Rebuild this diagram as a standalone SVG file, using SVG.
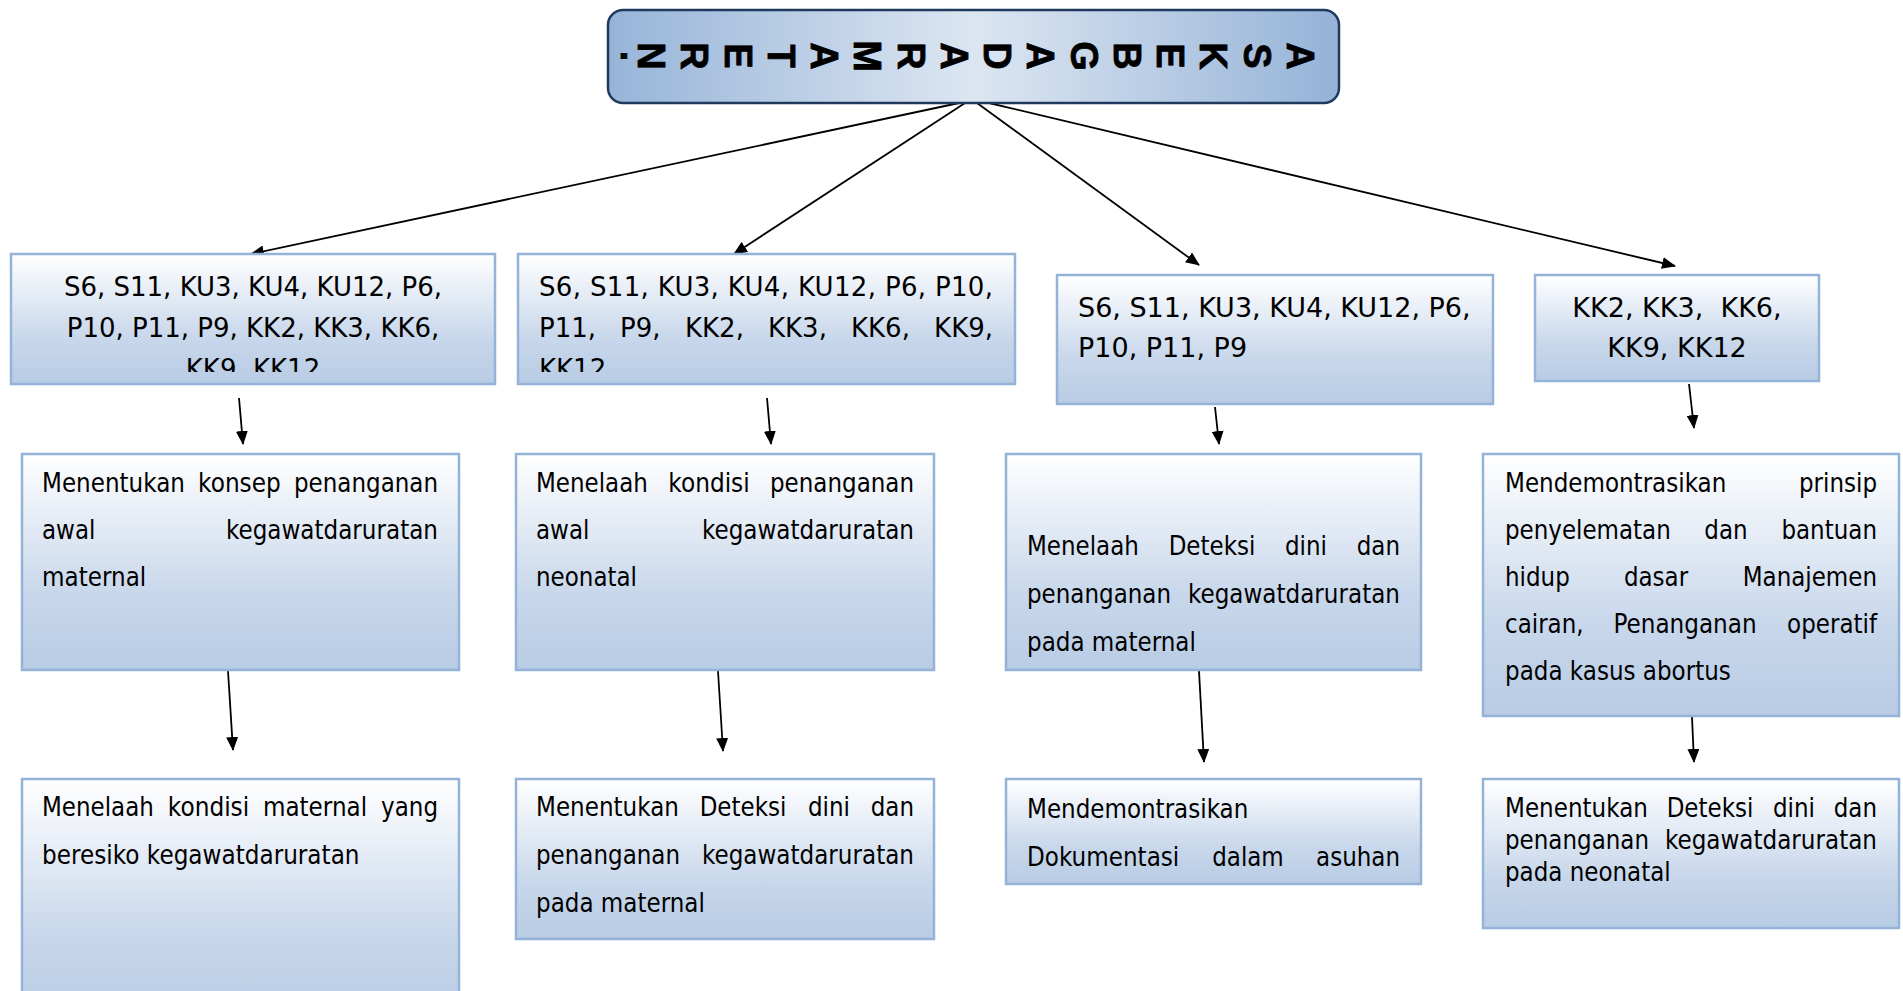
<svg xmlns="http://www.w3.org/2000/svg" width="1903" height="991" viewBox="0 0 1903 991">
<style>
.box{fill:url(#nodeGrad);stroke:#95b3d7;stroke-width:2.5}
.t1{font-family:"DejaVu Sans","Noto Sans",sans-serif;font-size:26px;fill:#000}
.t1b{font-family:"DejaVu Sans","Noto Sans",sans-serif;font-size:27px;fill:#000}
.t2{font-family:"DejaVu Sans","Noto Sans",sans-serif;font-size:26.5px;fill:#000}
.e{text-anchor:end}
.m{text-anchor:middle}
.tl{font-family:"Liberation Sans",Arial,sans-serif;font-weight:bold;font-size:38px;fill:#000;stroke:#000;stroke-width:0.8;text-anchor:middle}
.conn{stroke:#000;stroke-width:1.8;fill:none;marker-end:url(#ah)}
</style>
<defs>
<linearGradient id="nodeGrad" x1="0" y1="0" x2="0" y2="1">
<stop offset="0" stop-color="#ffffff"/>
<stop offset="0.65" stop-color="#c8d7eb"/>
<stop offset="1" stop-color="#b8cce4"/>
</linearGradient>
<linearGradient id="titleGrad" x1="0" y1="0" x2="1" y2="0">
<stop offset="0" stop-color="#97b4d8"/>
<stop offset="0.5" stop-color="#dce6f2"/>
<stop offset="1" stop-color="#95b3d7"/>
</linearGradient>
<marker id="ah" markerWidth="14" markerHeight="12" refX="13" refY="6" orient="auto" markerUnits="userSpaceOnUse">
<path d="M0,0 L14,6 L0,12 z" fill="#000"/>
</marker>
<clipPath id="clipB1"><rect x="11" y="254" width="484" height="118"/></clipPath>
<clipPath id="clipB2"><rect x="518" y="254" width="497" height="118"/></clipPath>
</defs>
<rect x="0" y="0" width="1903" height="991" fill="#ffffff"/>

<g id="connectors">
<line class="conn" x1="959" y1="103" x2="251" y2="254"/>
<line class="conn" x1="965" y1="103" x2="734" y2="254"/>
<line class="conn" x1="977" y1="103" x2="1199" y2="265"/>
<line class="conn" x1="989" y1="103" x2="1675" y2="266"/>
<line class="conn" x1="239" y1="398" x2="243" y2="444"/>
<line class="conn" x1="767" y1="398" x2="771" y2="444"/>
<line class="conn" x1="1215" y1="407" x2="1219" y2="444"/>
<line class="conn" x1="1689" y1="384" x2="1694" y2="428"/>
<line class="conn" x1="228" y1="671" x2="233" y2="750"/>
<line class="conn" x1="718" y1="671" x2="723" y2="751"/>
<line class="conn" x1="1199" y1="671" x2="1204" y2="762"/>
<line class="conn" x1="1692" y1="717" x2="1694" y2="762"/>
</g>

<g id="title">
<rect x="608" y="10" width="731" height="93" rx="15" ry="15" fill="url(#titleGrad)" stroke="#203a5e" stroke-width="2.5"/>
<text class="tl" transform="translate(1301,56) rotate(90)" dy="13.6">A</text>
<text class="tl" transform="translate(1258,56) rotate(90)" dy="13.6">S</text>
<text class="tl" transform="translate(1214,56) rotate(90)" dy="13.6">K</text>
<text class="tl" transform="translate(1171,56) rotate(90)" dy="13.6">E</text>
<text class="tl" transform="translate(1128,56) rotate(90)" dy="13.6">B</text>
<text class="tl" transform="translate(1085,56) rotate(90)" dy="13.6">G</text>
<text class="tl" transform="translate(1041,56) rotate(90)" dy="13.6">A</text>
<text class="tl" transform="translate(998,56) rotate(90)" dy="13.6">D</text>
<text class="tl" transform="translate(955,56) rotate(90)" dy="13.6">A</text>
<text class="tl" transform="translate(912,56) rotate(90)" dy="13.6">R</text>
<text class="tl" transform="translate(868,56) rotate(90)" dy="13.6">M</text>
<text class="tl" transform="translate(825,56) rotate(90)" dy="13.6">A</text>
<text class="tl" transform="translate(782,56) rotate(90)" dy="13.6">T</text>
<text class="tl" transform="translate(739,56) rotate(90)" dy="13.6">E</text>
<text class="tl" transform="translate(695,56) rotate(90)" dy="13.6">R</text>
<text class="tl" transform="translate(652,56) rotate(90)" dy="13.6">N</text>
<text class="tl" transform="translate(635,56) rotate(90)" dy="13.6">.</text>
</g>

<g id="b1">
<rect class="box" x="11" y="254" width="484" height="130"/>
<g clip-path="url(#clipB1)">
<text class="t1 m" x="253" y="296">S6, S11, KU3, KU4, KU12, P6,</text>
<text class="t1 m" x="253" y="337">P10, P11, P9, KK2, KK3, KK6,</text>
<text class="t1 m" x="253" y="378">KK9, KK12</text>
</g>
</g>

<g id="b2">
<rect class="box" x="518" y="254" width="497" height="130"/>
<g clip-path="url(#clipB2)">
<text class="t1" x="539" y="296" textLength="454" lengthAdjust="spacing">S6, S11, KU3, KU4, KU12, P6, P10,</text>
<text class="t1" x="539" y="337">P11,</text>
<text class="t1" x="620" y="337">P9,</text>
<text class="t1" x="685" y="337">KK2,</text>
<text class="t1" x="768" y="337">KK3,</text>
<text class="t1" x="851" y="337">KK6,</text>
<text class="t1 e" x="993" y="337">KK9,</text>
<text class="t1" x="539" y="378">KK12</text>
</g>
</g>

<g id="b3">
<rect class="box" x="1057" y="275" width="436" height="129"/>
<text class="t1b" x="1078" y="317">S6, S11, KU3, KU4, KU12, P6,</text>
<text class="t1b" x="1078" y="357">P10, P11, P9</text>
</g>

<g id="b4">
<rect class="box" x="1535" y="275" width="284" height="106"/>
<text class="t1b m" x="1677" y="317" xml:space="preserve">KK2, KK3,  KK6,</text>
<text class="t1b m" x="1677" y="357">KK9, KK12</text>
</g>

<g id="c1">
<rect class="box" x="22" y="454" width="437" height="216"/>
<text class="t2" x="42" y="492" textLength="142.9" lengthAdjust="spacingAndGlyphs">Menentukan</text>
<text class="t2 m" x="239.4" y="492" textLength="82.7" lengthAdjust="spacingAndGlyphs">konsep</text>
<text class="t2 e" x="438" y="492" textLength="144" lengthAdjust="spacingAndGlyphs">penanganan</text>
<text class="t2" x="42" y="539" textLength="53.4" lengthAdjust="spacingAndGlyphs">awal</text>
<text class="t2 e" x="438" y="539" textLength="212.1" lengthAdjust="spacingAndGlyphs">kegawatdaruratan</text>
<text class="t2" x="42" y="586" textLength="104.2" lengthAdjust="spacingAndGlyphs">maternal</text>
</g>

<g id="c2">
<rect class="box" x="516" y="454" width="418" height="216"/>
<text class="t2" x="536" y="492" textLength="111.9" lengthAdjust="spacingAndGlyphs">Menelaah</text>
<text class="t2 m" x="709" y="492" textLength="81.4" lengthAdjust="spacingAndGlyphs">kondisi</text>
<text class="t2 e" x="914" y="492" textLength="144" lengthAdjust="spacingAndGlyphs">penanganan</text>
<text class="t2" x="536" y="539" textLength="53.4" lengthAdjust="spacingAndGlyphs">awal</text>
<text class="t2 e" x="914" y="539" textLength="212.1" lengthAdjust="spacingAndGlyphs">kegawatdaruratan</text>
<text class="t2" x="536" y="586" textLength="101" lengthAdjust="spacingAndGlyphs">neonatal</text>
</g>

<g id="c3">
<rect class="box" x="1006" y="454" width="415" height="216"/>
<text class="t2" x="1027" y="555" textLength="111.9" lengthAdjust="spacingAndGlyphs">Menelaah</text>
<text class="t2 m" x="1212" y="555" textLength="86.7" lengthAdjust="spacingAndGlyphs">Deteksi</text>
<text class="t2 m" x="1306" y="555" textLength="42" lengthAdjust="spacingAndGlyphs">dini</text>
<text class="t2 e" x="1400" y="555" textLength="43.3" lengthAdjust="spacingAndGlyphs">dan</text>
<text class="t2" x="1027" y="603" textLength="144" lengthAdjust="spacingAndGlyphs">penanganan</text>
<text class="t2 e" x="1400" y="603" textLength="212.1" lengthAdjust="spacingAndGlyphs">kegawatdaruratan</text>
<text class="t2" x="1027" y="651" textLength="168.9" lengthAdjust="spacingAndGlyphs">pada maternal</text>
</g>

<g id="c4">
<rect class="box" x="1483" y="454" width="416" height="262"/>
<text class="t2" x="1505" y="492" textLength="221.3" lengthAdjust="spacingAndGlyphs">Mendemontrasikan</text>
<text class="t2 e" x="1877" y="492" textLength="78" lengthAdjust="spacingAndGlyphs">prinsip</text>
<text class="t2" x="1505" y="539" textLength="165.8" lengthAdjust="spacingAndGlyphs">penyelematan</text>
<text class="t2 m" x="1726" y="539" textLength="43.3" lengthAdjust="spacingAndGlyphs">dan</text>
<text class="t2 e" x="1877" y="539" textLength="95.6" lengthAdjust="spacingAndGlyphs">bantuan</text>
<text class="t2" x="1505" y="586" textLength="64.8" lengthAdjust="spacingAndGlyphs">hidup</text>
<text class="t2 m" x="1656" y="586" textLength="64.2" lengthAdjust="spacingAndGlyphs">dasar</text>
<text class="t2 e" x="1877" y="586" textLength="134.3" lengthAdjust="spacingAndGlyphs">Manajemen</text>
<text class="t2" x="1505" y="633" textLength="78.6" lengthAdjust="spacingAndGlyphs">cairan,</text>
<text class="t2 m" x="1685" y="633" textLength="143.2" lengthAdjust="spacingAndGlyphs">Penanganan</text>
<text class="t2 e" x="1877" y="633" textLength="89.9" lengthAdjust="spacingAndGlyphs">operatif</text>
<text class="t2" x="1505" y="680" textLength="225.8" lengthAdjust="spacingAndGlyphs">pada kasus abortus</text>
</g>

<g id="d1">
<rect class="box" x="22" y="779" width="437" height="240"/>
<text class="t2" x="42" y="816" textLength="111.9" lengthAdjust="spacingAndGlyphs">Menelaah</text>
<text class="t2 m" x="208.5" y="816" textLength="81.4" lengthAdjust="spacingAndGlyphs">kondisi</text>
<text class="t2 m" x="315" y="816" textLength="104.2" lengthAdjust="spacingAndGlyphs">maternal</text>
<text class="t2 e" x="438" y="816" textLength="56.9" lengthAdjust="spacingAndGlyphs">yang</text>
<text class="t2" x="42" y="864" textLength="317.5" lengthAdjust="spacingAndGlyphs">beresiko kegawatdaruratan</text>
</g>

<g id="d2">
<rect class="box" x="516" y="779" width="418" height="160"/>
<text class="t2" x="536" y="816" textLength="142.9" lengthAdjust="spacingAndGlyphs">Menentukan</text>
<text class="t2 m" x="743" y="816" textLength="86.7" lengthAdjust="spacingAndGlyphs">Deteksi</text>
<text class="t2 m" x="829" y="816" textLength="42" lengthAdjust="spacingAndGlyphs">dini</text>
<text class="t2 e" x="914" y="816" textLength="43.3" lengthAdjust="spacingAndGlyphs">dan</text>
<text class="t2" x="536" y="864" textLength="144" lengthAdjust="spacingAndGlyphs">penanganan</text>
<text class="t2 e" x="914" y="864" textLength="212.1" lengthAdjust="spacingAndGlyphs">kegawatdaruratan</text>
<text class="t2" x="536" y="912" textLength="168.9" lengthAdjust="spacingAndGlyphs">pada maternal</text>
</g>

<g id="d3">
<rect class="box" x="1006" y="779" width="415" height="105"/>
<text class="t2" x="1027" y="818" textLength="221.3" lengthAdjust="spacingAndGlyphs">Mendemontrasikan</text>
<text class="t2" x="1027" y="866" textLength="152.3" lengthAdjust="spacingAndGlyphs">Dokumentasi</text>
<text class="t2 m" x="1248" y="866" textLength="71.6" lengthAdjust="spacingAndGlyphs">dalam</text>
<text class="t2 e" x="1400" y="866" textLength="83.9" lengthAdjust="spacingAndGlyphs">asuhan</text>
</g>

<g id="d4">
<rect class="box" x="1483" y="779" width="416" height="149"/>
<text class="t2" x="1505" y="817" textLength="142.9" lengthAdjust="spacingAndGlyphs">Menentukan</text>
<text class="t2 m" x="1710" y="817" textLength="86.7" lengthAdjust="spacingAndGlyphs">Deteksi</text>
<text class="t2 m" x="1794" y="817" textLength="42" lengthAdjust="spacingAndGlyphs">dini</text>
<text class="t2 e" x="1877" y="817" textLength="43.3" lengthAdjust="spacingAndGlyphs">dan</text>
<text class="t2" x="1505" y="849" textLength="144" lengthAdjust="spacingAndGlyphs">penanganan</text>
<text class="t2 e" x="1877" y="849" textLength="212.1" lengthAdjust="spacingAndGlyphs">kegawatdaruratan</text>
<text class="t2" x="1505" y="881" textLength="165.7" lengthAdjust="spacingAndGlyphs">pada neonatal</text>
</g>
</svg>
